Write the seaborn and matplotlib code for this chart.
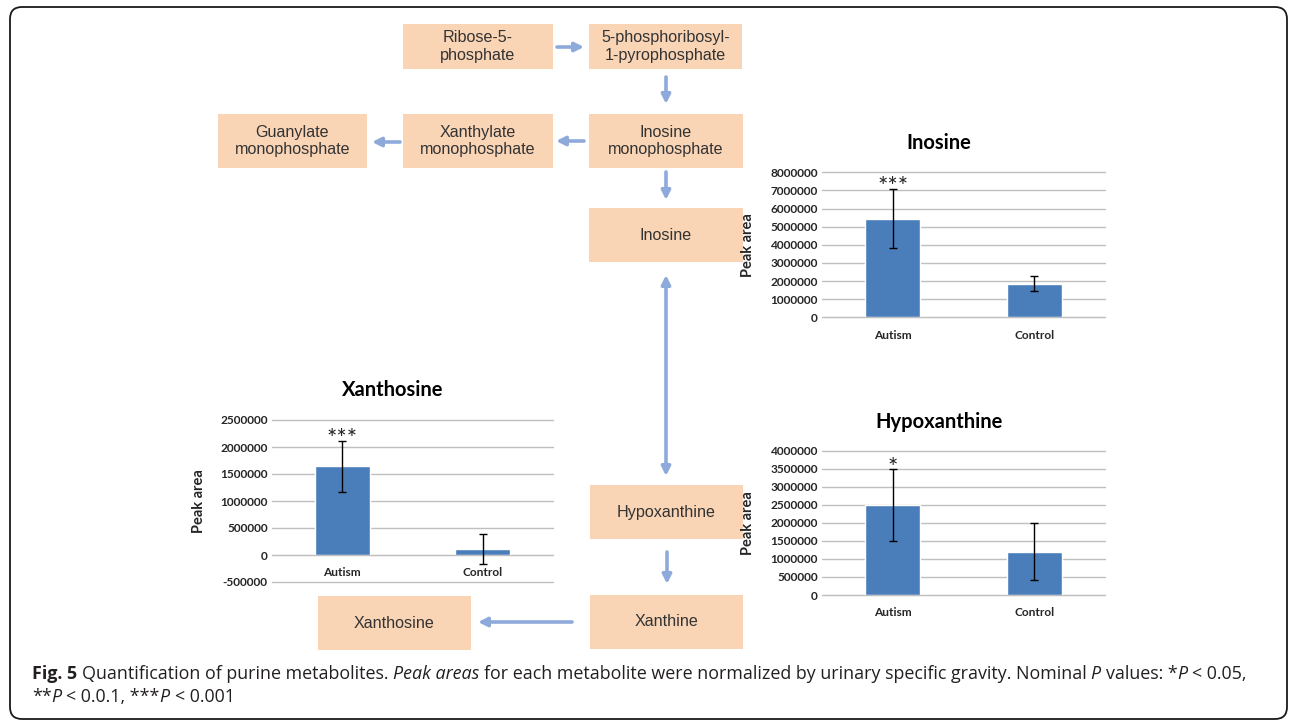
import matplotlib
matplotlib.use('Agg')
import matplotlib.pyplot as plt
from matplotlib.patches import FancyBboxPatch, Rectangle
from matplotlib.ticker import FuncFormatter
import numpy as np
import pandas as pd
import seaborn as sns

# values
groups = ['Autism', 'Control']
inosine_mean = [5450000, 1850000]
inosine_err = [1650000, 420000]
hypoxanthine_mean = [2490000, 1200000]
hypoxanthine_err = [1000000, 790000]
xanthosine_mean = [1640000, 115000]
xanthosine_err = [480000, 280000]
inosine_stars = '***'
hypoxanthine_stars = '*'
xanthosine_stars = '***'

BAR = '#4A7EBB'
BOX = '#F9D5B6'
ARROW = '#8EAADB'
GRID = '#BFBFBF'
INK = '#262626'

sns.set_style('white')
plt.rcParams['font.family'] = ['Lato', 'DejaVu Sans']

W, H = 1292, 722
fig = plt.figure(figsize=(W / 100, H / 100), dpi=100)

# full-figure overlay in pixel units for the pathway diagram + caption
ov = fig.add_axes([0, 0, 1, 1], zorder=0)
ov.set_xlim(0, W)
ov.set_ylim(H, 0)
ov.axis('off')

# outer rounded frame
ov.add_patch(FancyBboxPatch((10, 7), 1277, 712, boxstyle='round,pad=0,rounding_size=12',
                            fc='none', ec='#1a1a1a', lw=1.3))

# pathway boxes: label, left, top, width, height
boxes = [
    ('Ribose-5-\nphosphate', 403, 24, 150, 45),
    ('5-phosphoribosyl-\n1-pyrophosphate', 589, 24, 153, 45),
    ('Guanylate\nmonophosphate', 218, 114, 149, 54),
    ('Xanthylate\nmonophosphate', 403, 114, 150, 54),
    ('Inosine\nmonophosphate', 589, 114, 154, 54),
    ('Inosine', 589, 208, 154, 54),
    ('Hypoxanthine', 590, 485, 153, 54),
    ('Xanthine', 590, 595, 153, 54),
    ('Xanthosine', 318, 596, 153, 54),
]
for label, x, y, w, h in boxes:
    ov.add_patch(Rectangle((x, y), w, h, fc=BOX, ec='none'))
    ov.text(x + w / 2, y + h / 2, label, ha='center', va='center', fontsize=11.6,
            family=['Liberation Sans', 'DejaVu Sans'], color='#333333', linespacing=1.2)

# arrows: start -> end
arrows = [
    ((557, 47), (584, 47), '-|>'),
    ((666, 77), (666, 104), '-|>'),
    ((584, 141), (556, 141), '-|>'),
    ((400, 142), (372, 142), '-|>'),
    ((666, 172), (666, 200), '-|>'),
    ((666, 275), (666, 476), '<|-|>'),
    ((667, 552), (667, 584), '-|>'),
    ((572, 622), (478, 622), '-|>'),
]
for start, end, style in arrows:
    ov.annotate('', xy=end, xytext=start,
                arrowprops=dict(arrowstyle=style, color=ARROW, lw=2.6,
                                mutation_scale=13, shrinkA=0, shrinkB=0))


def bar_chart(rect, title, means, errs, stars, ymin, ymax, step, title_x, title_y):
    x0, y0, x1, y1 = rect
    ax = fig.add_axes([x0 / W, 1 - y1 / H, (x1 - x0) / W, (y1 - y0) / H], zorder=2)
    ax.set_facecolor('none')
    df = pd.DataFrame({'group': groups, 'value': means})
    sns.barplot(data=df, x='group', y='value', ax=ax, color=BAR, saturation=1, width=0.39)
    ax.errorbar(range(len(groups)), means, yerr=errs, fmt='none', ecolor='black',
                elinewidth=1, capsize=3, capthick=1, zorder=3)
    ax.set_ylim(ymin, ymax)
    ax.set_xlim(-0.5, 1.5)
    ax.set_yticks(np.arange(ymin, ymax + step / 2, step))
    ax.yaxis.set_major_formatter(FuncFormatter(lambda v, p: f'{int(round(v))}'))
    ax.grid(axis='y', color=GRID, lw=1)
    for gl in ax.get_ygridlines():
        gl.set_clip_on(False)
    ax.set_axisbelow(True)
    for s in ['left', 'top', 'right']:
        ax.spines[s].set_visible(False)
    ax.spines['bottom'].set_color(GRID)
    ax.spines['bottom'].set_position(('data', 0))
    ax.tick_params(axis='both', length=0, labelsize=8.6, colors=INK)
    ax.tick_params(axis='x', pad=9)
    ax.tick_params(axis='y', pad=3)
    for lbl in ax.get_xticklabels() + ax.get_yticklabels():
        lbl.set_fontweight('bold')
    ax.set_xlabel('')
    ax.set_ylabel('Peak area', fontsize=10.5, weight='bold', color=INK)
    ax.yaxis.set_label_coords(-0.235, 0.5)
    ax.annotate(stars, xy=(0, means[0] + errs[0]), xytext=(0, -3.5), textcoords='offset points',
                ha='center', va='baseline', fontsize=17.5, color=INK)
    ax.set_title(title, x=title_x, y=title_y, va='center', fontsize=14.5,
                 weight='bold', color='black', pad=0)
    return ax


bar_chart((822, 172.3, 1105, 317.3), 'Inosine', inosine_mean, inosine_err, inosine_stars,
          0, 8000000, 1000000, 0.413, 1.2)
bar_chart((822, 450.7, 1105, 595), 'Hypoxanthine', hypoxanthine_mean, hypoxanthine_err,
          hypoxanthine_stars, 0, 4000000, 500000, 0.413, 1.2)
bar_chart((272, 420, 553, 582), 'Xanthosine', xanthosine_mean, xanthosine_err,
          xanthosine_stars, -500000, 2500000, 500000, 0.43, 1.185)

# caption, written in runs so that bold / italic parts line up
CAP_FONT = ['Open Sans', 'DejaVu Sans']
line1 = [('Fig. 5 ', 'normal', 'bold'),
         ('Quantification of purine metabolites. ', 'normal', 'normal'),
         ('Peak areas ', 'italic', 'normal'),
         ('for each metabolite were normalized by urinary specific gravity. Nominal ', 'normal', 'normal'),
         ('P ', 'italic', 'normal'),
         ('values: *', 'normal', 'normal'),
         ('P ', 'italic', 'normal'),
         ('< 0.05,', 'normal', 'normal')]
line2 = [('**', 'normal', 'normal'),
         ('P ', 'italic', 'normal'),
         ('< 0.0.1, ***', 'normal', 'normal'),
         ('P ', 'italic', 'normal'),
         ('< 0.001', 'normal', 'normal')]

renderer = fig.canvas.get_renderer()


def run_width(txt, size, style, weight):
    a = ov.text(0, 0, txt + '|', fontsize=size, style=style, weight=weight, family=CAP_FONT)
    b = ov.text(0, 0, '|', fontsize=size, style=style, weight=weight, family=CAP_FONT)
    w = a.get_window_extent(renderer).width - b.get_window_extent(renderer).width
    a.remove()
    b.remove()
    return w


def write_runs(runs, x, y, size):
    for txt, style, weight in runs:
        ov.text(x, y, txt, fontsize=size, style=style, weight=weight, family=CAP_FONT,
                ha='left', va='baseline', color='#231F20')
        x += run_width(txt, size, style, weight)
    return x


base = 12
total = sum(run_width(t, base, s, w) for t, s, w in line1)
cap_size = base * (1241 - 32) / total
write_runs(line1, 32, 679, cap_size)
write_runs(line2, 32, 702, cap_size)

fig.savefig('out.png', dpi=100)
